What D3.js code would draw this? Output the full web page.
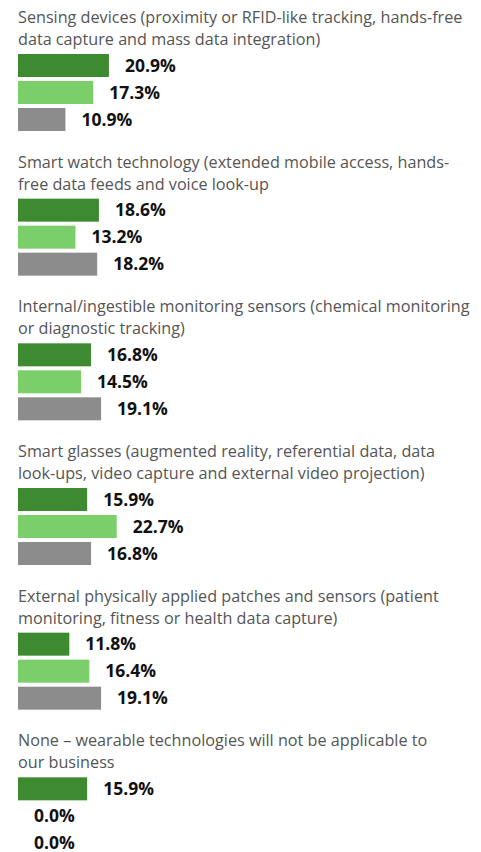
<!DOCTYPE html>
<html>
<head>
<meta charset="utf-8">
<script src="https://cdn.jsdelivr.net/npm/d3@7"></script>
<style>
  body { margin: 0; background: #fff; }
  svg { display: block; }
</style>
</head>
<body>
<svg width="481" height="852"></svg>
<script>
const categories = [
  ["Sensing devices (proximity or RFID-like tracking, hands-free", "data capture and mass data integration)"],
  ["Smart watch technology (extended mobile access, hands-", "free data feeds and voice look-up"],
  ["Internal/ingestible monitoring sensors (chemical monitoring", "or diagnostic tracking)"],
  ["Smart glasses (augmented reality, referential data, data", "look-ups, video capture and external video projection)"],
  ["External physically applied patches and sensors (patient", "monitoring, fitness or health data capture)"],
  ["None \u2013 wearable technologies will not be applicable to", "our business"]
];
const series1 = [20.9, 18.6, 16.8, 15.9, 11.8, 15.9];
const series2 = [17.3, 13.2, 14.5, 22.7, 16.4, 0.0];
const series3 = [10.9, 18.2, 19.1, 16.8, 19.1, 0.0];
const colors = ["#3d8a31", "#7bcf6b", "#8c8c8c"];

const svg = d3.select("svg");
const left = 18;

const x = d3.scaleLinear().domain([0, 100]).range([0, 435]);
const groupY = d3.scaleBand().domain(d3.range(categories.length)).range([0, 868]);
// 3 bars of 23px with 4px gaps
const barY = d3.scaleBand().domain([0, 1, 2]).range([54, 131]).paddingInner(4 / 27).paddingOuter(0);

const groups = svg.selectAll("g.group")
  .data(categories.map((c, i) => ({ title: c, values: [series1[i], series2[i], series3[i]] })))
  .enter().append("g")
  .attr("class", "group")
  .attr("transform", (d, i) => `translate(${left},${groupY(i)})`);

groups.append("text")
  .attr("fill", "#555")
  .style("font-family", "'Open Sans', sans-serif")
  .style("font-size", "16.2px")
  .selectAll("tspan")
  .data(d => d.title)
  .enter().append("tspan")
  .attr("x", 0)
  .attr("y", (d, i) => 23 + i * 22)
  .text(d => d);

groups.selectAll("rect")
  .data(d => d.values)
  .enter().append("rect")
  .attr("x", 0)
  .attr("y", (d, i) => barY(i))
  .attr("width", d => x(d))
  .attr("height", barY.bandwidth())
  .attr("fill", (d, i) => colors[i]);

groups.selectAll("text.val")
  .data(d => d.values)
  .enter().append("text")
  .attr("class", "val")
  .attr("x", d => x(d) + 16)
  .attr("y", (d, i) => barY(i) + barY.bandwidth() / 2)
  .attr("dy", "0.35em")
  .attr("fill", "#111")
  .style("font-family", "'Open Sans', sans-serif")
  .style("font-weight", "bold")
  .style("font-size", "17.5px")
  .text(d => d.toFixed(1) + "%");
</script>
</body>
</html>
